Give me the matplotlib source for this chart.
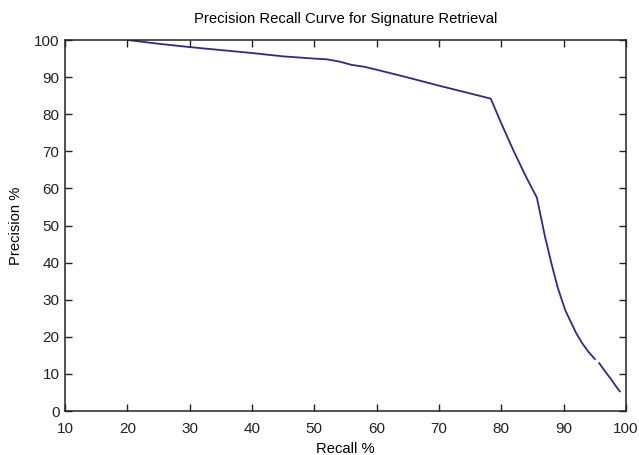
import matplotlib
matplotlib.use("Agg")
import matplotlib.pyplot as plt

# precision/recall, two pieces (small gap near 95%)
recall_a = [20.1, 25, 30, 35, 40, 45, 50, 52, 54, 56, 58, 60, 65, 70, 75, 78.3,
            80, 82, 84, 85.7, 87, 88, 89, 89.7, 90.3, 91, 92, 93, 94, 95.0]
precision_a = [100, 99, 98.1, 97.3, 96.5, 95.6, 95.0, 94.8, 94.2, 93.3, 92.8, 92.0,
               89.9, 87.7, 85.6, 84.2, 77.5, 70.0, 63.0, 57.5, 47, 40, 33.5,
               29.9, 27.0, 24.5, 21.0, 18.2, 15.9, 14.0]
recall_b = [95.7, 96.5, 97.5, 98.5, 99.0]
precision_b = [12.9, 11.0, 8.8, 6.4, 5.3]

plt.rcParams['font.family'] = ['Liberation Sans', 'DejaVu Sans']

fig = plt.figure(figsize=(6.39, 4.55), dpi=100)
ax = fig.add_axes([0.1017, 0.0967, 0.8780, 0.8153])

line_color = '#2e2a8c'
ax.plot(recall_a, precision_a, color=line_color, linewidth=1.3)
ax.plot(recall_b, precision_b, color=line_color, linewidth=1.3)

ax.set_xlim(10, 100)
ax.set_ylim(0, 100)
ax.set_xticks(range(10, 101, 10))
ax.set_yticks(range(0, 101, 10))
ax.tick_params(direction='in', length=5, width=1, top=True, right=True,
               labelsize=11, pad=4, colors='#222222')
ax.tick_params(axis='x', pad=8)
for s in ax.spines.values():
    s.set_linewidth(1.1)
    s.set_color('#222222')

ax.set_title('Precision Recall Curve for Signature Retrieval', fontsize=10.7, pad=12)
ax.set_xlabel('Recall %', fontsize=10.6, labelpad=4)
ax.set_ylabel('Precision %', fontsize=10.6, labelpad=8)

fig.savefig('out.png', dpi=100)
